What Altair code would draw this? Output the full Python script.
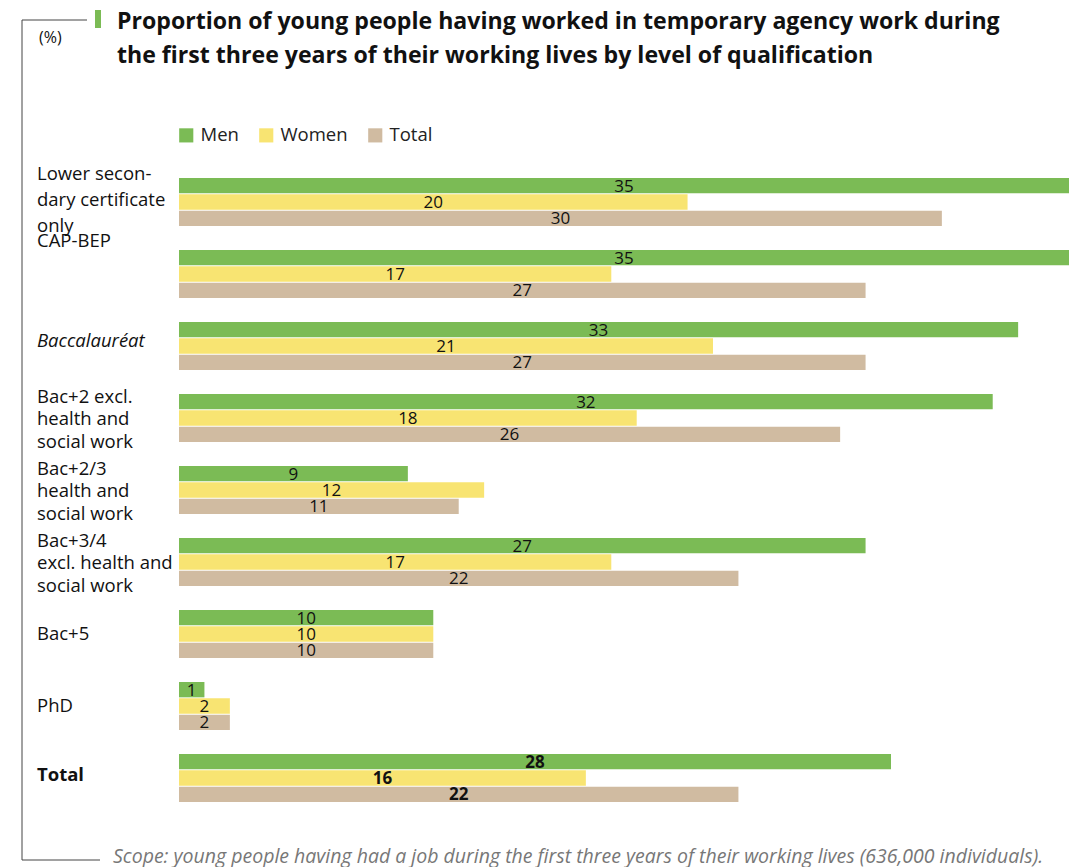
import altair as alt
import pandas as pd

categories = [
    "Lower secon-\ndary certificate\nonly",
    "CAP-BEP",
    "Baccalauréat",
    "Bac+2 excl.\nhealth and\nsocial work",
    "Bac+2/3\nhealth and\nsocial work",
    "Bac+3/4\nexcl. health and\nsocial work",
    "Bac+5",
    "PhD",
    "Total",
]
men = [35, 35, 33, 32, 9, 27, 10, 1, 28]
women = [20, 17, 21, 18, 12, 17, 10, 2, 16]
total = [30, 27, 27, 26, 11, 22, 10, 2, 22]
series = ["Men", "Women", "Total"]
colors = ["#7BBB55", "#F8E472", "#D0BBA1"]

title_lines = [
    "Proportion of young people having worked in temporary agency work during",
    "the first three years of their working lives by level of qualification",
]
unit_label = "(%)"
footnote = "Scope: young people having had a job during the first three years of their working lives (636,000 individuals)."

rows = []
for i, c in enumerate(categories):
    for s, vals in zip(series, [men, women, total]):
        rows.append({"cat": c, "series": s, "value": vals[i]})
df = pd.DataFrame(rows)
cat_df = pd.DataFrame({"cat": categories})
one = pd.DataFrame({"a": [0]})

FONT = "Open Sans"
LH = 22.5
CAT_FS = 18.5

ys = alt.Y("cat:N", sort=categories, axis=None,
           scale=alt.Scale(paddingInner=1 / 3, paddingOuter=1 / 6))
yo = alt.YOffset("series:N", sort=series,
                 scale=alt.Scale(paddingInner=0.06, paddingOuter=0))
xscale = alt.Scale(domain=[0, 35], nice=False, zero=True)

bars = alt.Chart(df).mark_bar().encode(
    x=alt.X("value:Q", axis=None, scale=xscale),
    y=ys,
    yOffset=yo,
    color=alt.Color(
        "series:N", sort=series,
        scale=alt.Scale(domain=series, range=colors),
        legend=alt.Legend(
            title=None, orient="none", legendX=-2, legendY=-40, padding=0,
            direction="horizontal", symbolType="square", symbolSize=200,
            symbolStrokeWidth=0, labelFont=FONT, labelFontSize=18.5,
            labelColor="#222", labelOffset=5, columnPadding=18,
        ),
    ),
)

def value_labels(bold):
    test = "datum.cat == 'Total'" if bold else "datum.cat != 'Total'"
    return alt.Chart(df).transform_filter(test).transform_calculate(
        mid="datum.value / 2"
    ).mark_text(
        font=FONT, fontSize=17, baseline="middle", align="center", dy=1,
        color="#111", fontWeight="bold" if bold else "normal",
    ).encode(
        x=alt.X("mid:Q", axis=None, scale=xscale),
        y=ys,
        yOffset=yo,
        text="value:Q",
    )

def cat_labels(test, **kw):
    props = dict(font=FONT, fontSize=CAT_FS, align="left", baseline="middle",
                 lineBreak="\n", lineHeight=LH, color="#111")
    props.update(kw)
    return alt.Chart(cat_df).transform_filter(test).mark_text(**props).encode(
        x=alt.value(-142), y=ys, text="cat:N"
    )

first = categories[0]
labels_first = cat_labels(f"datum.cat == '{first}'".replace("\n", "\\n"),
                          lineHeight=26, dy=-28)
labels_multi = cat_labels(
    f"indexof(datum.cat, '\\n') >= 0 && datum.cat != '{first}'".replace("\n", "\\n"),
    dy=-LH + 1)
labels_cap = cat_labels("datum.cat == 'CAP-BEP'", dy=-33)
labels_bac = cat_labels("datum.cat == 'Baccalauréat'", fontStyle="italic", dy=-5)
labels_single = cat_labels(
    "indexof(datum.cat, '\\n') < 0 && datum.cat != 'Total' && datum.cat != 'Baccalauréat' && datum.cat != 'CAP-BEP'")
labels_tot = cat_labels("datum.cat == 'Total'", fontWeight="bold", dy=-3)

ann = alt.Chart(one)
title1 = ann.mark_text(font=FONT, fontSize=23.1, fontWeight="bold", align="left",
                       baseline="middle", color="#111").encode(
    x=alt.value(-62), y=alt.value(-144), text=alt.value(title_lines[0]))
title2 = ann.mark_text(font=FONT, fontSize=23.1, fontWeight="bold", align="left",
                       baseline="middle", color="#111").encode(
    x=alt.value(-62), y=alt.value(-110), text=alt.value(title_lines[1]))
square = ann.mark_rect(color=colors[0]).encode(
    x=alt.value(-84), x2=alt.value(-78), y=alt.value(-156), y2=alt.value(-138))
unit = ann.mark_text(font=FONT, fontSize=16, align="left", baseline="middle",
                     color="#111").encode(
    x=alt.value(-140), y=alt.value(-128), text=alt.value(unit_label))
vline = ann.mark_rule(color="#444", strokeWidth=1).encode(
    x=alt.value(-157), y=alt.value(-146), y2=alt.value(694))
hline_top = ann.mark_rule(color="#444", strokeWidth=1).encode(
    x=alt.value(-157), x2=alt.value(-92), y=alt.value(-146))
hline_bot = ann.mark_rule(color="#444", strokeWidth=1).encode(
    x=alt.value(-157), x2=alt.value(-79), y=alt.value(694))
foot = ann.mark_text(font=FONT, fontSize=19.5, fontStyle="italic", align="left",
                     baseline="middle", color="#777").encode(
    x=alt.value(-66), y=alt.value(691), text=alt.value(footnote))

chart = alt.layer(
    bars, value_labels(False), value_labels(True),
    labels_first, labels_multi, labels_cap, labels_bac, labels_single, labels_tot,
    vline, hline_top, hline_bot, square, title1, title2, unit, foot,
).properties(
    width=890, height=648,
    autosize=alt.AutoSizeParams(type="none"),
    padding={"left": 171, "top": 158, "right": 0, "bottom": 53},
).configure_view(stroke=None).resolve_scale(color="independent")

chart.save("out.html", embed_options={"renderer": "svg", "actions": False})
